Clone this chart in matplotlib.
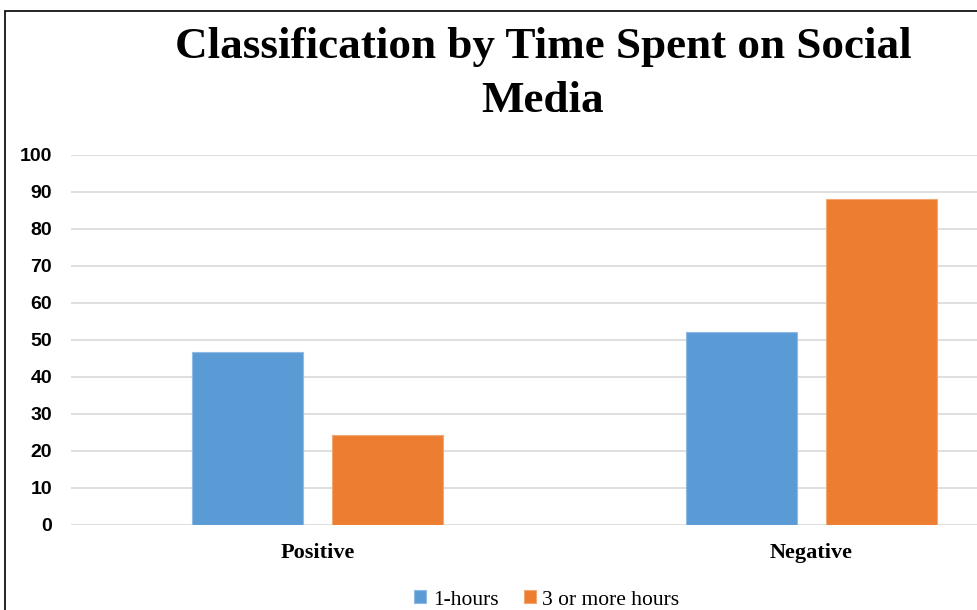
import matplotlib.pyplot as plt
import numpy as np
from matplotlib.patches import Rectangle

# Data
categories = ['Positive', 'Negative']
one_hour = [46.8, 52.2]
three_plus = [24.3, 88.0]
series_names = ['1-hours', '3 or more hours']
yticks = list(range(0, 101, 10))

blue = '#5B9BD5'
orange = '#ED7D31'

W, H = 978, 610
fig = plt.figure(figsize=(W / 100, H / 100), dpi=100)

# axes placed in pixel terms (the chart is cropped on the right)
left_px, right_px = 70.75, 978
bottom_px, top_px = 524.5, 155
ax = fig.add_axes([left_px / W, 1 - bottom_px / H,
                   (right_px - left_px) / W, (bottom_px - top_px) / H])

x = np.arange(len(categories))
width = 0.225
offset = 0.142
ax.bar(x - offset, one_hour, width, color=blue, edgecolor='#8DBBE6', linewidth=0.8,
       label=series_names[0], zorder=3)
ax.bar(x + offset, three_plus, width, color=orange, edgecolor='#F2A874', linewidth=0.8,
       label=series_names[1], zorder=3)

ax.set_xlim(-0.5, 1.338)
ax.set_ylim(0, 100)
ax.set_yticks(yticks)
ax.set_xticks(x)
ax.set_xticklabels(categories, fontfamily='Liberation Serif', fontweight='bold', fontsize=16)
for lab in ax.get_yticklabels():
    lab.set_fontfamily('Liberation Sans')
    lab.set_fontweight('bold')
    lab.set_fontsize(14)
ax.tick_params(axis='y', length=0, pad=13.5)
ax.tick_params(axis='x', length=0, pad=13)
ax.grid(axis='y', color='#d9d9d9', linewidth=1.2, zorder=0)
for s in ax.spines.values():
    s.set_visible(False)

# title
fig.text(543 / W, 1 - 47 / H, 'Classification by Time Spent on Social', ha='center', va='center',
         fontfamily='Liberation Serif', fontweight='bold', fontsize=32.5)
fig.text(543 / W, 1 - 101 / H, 'Media', ha='center', va='center',
         fontfamily='Liberation Serif', fontweight='bold', fontsize=32.5)

# legend
fig.legend(loc='center', bbox_to_anchor=(547 / W, 1 - 600 / H), ncol=2, frameon=False,
           prop={'family': 'Liberation Serif', 'size': 15.5}, handlelength=0.55, handleheight=0.55,
           handletextpad=0.3, columnspacing=1.2)

# outer frame of the chart (cropped on right and bottom)
fig.patches.append(Rectangle((5 / W, -0.1), 2, 1.1 - 11 / H, transform=fig.transFigure,
                             fill=False, edgecolor='black', linewidth=1.2))

fig.savefig('out.png', dpi=100)
